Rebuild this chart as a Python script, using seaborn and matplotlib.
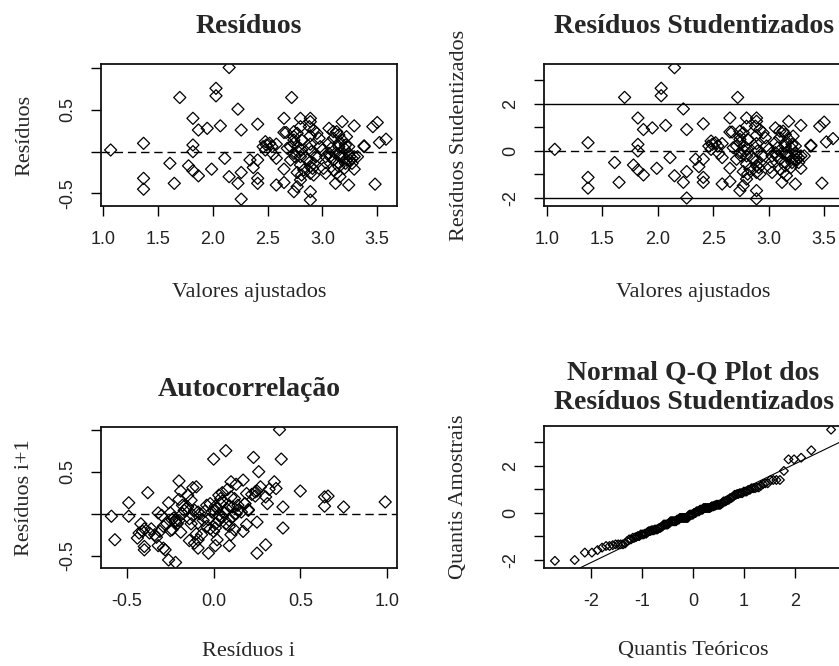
import matplotlib
matplotlib.use("Agg")
import matplotlib.pyplot as plt
import seaborn as sns
import numpy as np
from statistics import NormalDist

fitted = [1.07, 1.37, 1.37, 1.37, 1.61, 1.65, 1.70, 1.82, 1.82, 1.82,
          1.78, 1.82, 1.87, 1.87, 1.95, 1.99, 2.03, 2.03, 2.07, 2.11,
          2.15, 2.15, 2.23, 2.26, 2.23, 2.26, 2.26, 2.34, 2.37, 2.41,
          2.41, 2.41, 2.41, 2.48, 2.48, 2.52, 2.55, 2.58, 2.58, 2.58,
          2.65, 2.65, 2.67, 2.65, 2.65, 2.72, 2.74, 2.74, 2.74, 2.74,
          2.77, 2.77, 2.80, 2.80, 2.78, 2.80, 2.80, 2.80, 2.89, 2.89,
          2.89, 2.89, 2.89, 2.89, 2.89, 2.89, 2.89, 2.92, 2.92, 2.91,
          3.00, 3.01, 3.03, 3.06, 3.06, 3.07, 3.03, 3.10, 3.12, 3.15,
          3.15, 3.15, 3.15, 3.15, 3.16, 3.18, 3.18, 3.18, 3.20, 3.21,
          3.24, 3.24, 3.25, 3.29, 3.29, 3.29, 3.38, 3.38, 3.46, 3.50,
          3.48, 3.52, 3.58, 2.75, 2.81, 2.77, 2.97, 3.12, 3.10, 3.22,
          3.27, 2.98, 2.86, 2.94, 2.71, 2.71, 2.54, 2.49, 2.83, 3.13,
          3.08, 3.22, 3.32, 2.95, 2.74, 2.88, 3.16, 3.25, 3.20, 3.10,
          2.81, 3.16, 2.68, 2.92, 3.21, 2.81, 3.06, 2.46, 3.27, 2.90,
          2.74, 3.13, 3.03, 3.10, 2.88, 3.24, 2.78]
residuals = [0.02, 0.10, -0.32, -0.45, -0.14, -0.38, 0.65, 0.40, 0.08, 0.00,
             -0.17, -0.23, -0.29, 0.26, 0.28, -0.21, 0.76, 0.67, 0.31, -0.08,
             1.01, -0.30, 0.51, 0.26, -0.38, -0.25, -0.57, -0.10, -0.19, 0.33,
             -0.10, -0.32, -0.38, 0.12, 0.02, 0.10, -0.03, 0.09, -0.08, -0.40,
             0.40, 0.23, 0.23, -0.21, -0.37, 0.65, 0.18, 0.14, -0.02, -0.48,
             -0.25, -0.42, 0.40, 0.30, 0.06, -0.06, -0.16, -0.34, 0.40, 0.36,
             0.19, 0.09, -0.12, -0.18, -0.26, -0.48, -0.58, 0.26, -0.14, -0.20,
             0.02, -0.20, -0.26, 0.28, 0.10, -0.06, -0.13, 0.24, -0.38, 0.20,
             0.10, 0.06, -0.14, -0.18, -0.30, 0.36, 0.14, -0.06, -0.20, 0.08,
             -0.02, -0.40, -0.06, 0.31, -0.06, -0.21, 0.06, 0.07, 0.30, 0.35,
             -0.39, 0.11, 0.15, -0.06, 0.02, 0.22, 0.16, -0.02, -0.10, -0.10,
             -0.14, 0.06, -0.10, -0.06, -0.10, 0.06, 0.06, 0.08, -0.22, -0.26,
             0.04, 0.18, -0.06, 0.22, 0.10, 0.04, -0.02, -0.10, 0.04, 0.16,
             -0.28, -0.06, 0.04, -0.28, -0.14, 0.14, -0.02, 0.06, -0.08, 0.00,
             0.24, 0.24, -0.06, -0.22, 0.30, 0.06, 0.00]

# residual scale used for the studentized residuals
SIGMA = 0.285

res_i = [-0.59, -0.57, -0.49, -0.49, -0.42, -0.44, -0.43, -0.41, -0.40, -0.40,
         -0.38, -0.37, -0.34, -0.32, -0.32, -0.31, -0.29, -0.29, -0.28, -0.26,
         -0.26, -0.25, -0.24, -0.24, -0.22, -0.22, -0.20, -0.20, -0.19, -0.19,
         -0.21, -0.17, -0.15, -0.15, -0.14, -0.13, -0.14, -0.12, -0.11, -0.10,
         -0.10, -0.09, -0.09, -0.09, -0.09, -0.11, -0.04, -0.03, -0.03, -0.02,
         0.00, 0.00, 0.00, 0.01, 0.01, 0.02, 0.01, 0.03, 0.03, 0.04,
         0.05, 0.05, 0.07, 0.08, 0.09, 0.09, 0.09, 0.10, 0.09, 0.10,
         0.11, 0.12, 0.13, 0.14, 0.17, 0.17, 0.18, 0.19, 0.19, 0.20,
         0.23, 0.24, 0.24, 0.25, 0.25, 0.26, 0.27, 0.30, 0.30, 0.31,
         0.32, 0.35, 0.36, 0.38, 0.39, 0.40, 0.40, 0.50, 0.64, 0.66,
         0.64, 0.75, 0.99, -0.23, -0.22, -0.18, -0.16, -0.12, -0.08, -0.06,
         -0.05, 0.02, 0.03, 0.06, 0.07, 0.11, 0.14, 0.16, -0.27, -0.30,
         -0.36, -0.33, -0.20, 0.05, 0.12, -0.02, 0.08, 0.22, 0.25, -0.13,
         -0.07, 0.01, 0.04, -0.25, -0.40, 0.18, -0.04, 0.10, -0.18, 0.13,
         0.20, -0.01]
res_next = [-0.03, -0.31, 0.13, -0.03, -0.12, -0.29, -0.23, -0.21, -0.39, -0.43,
            0.25, -0.23, -0.25, -0.38, 0.01, -0.21, -0.15, -0.41, -0.43, -0.55,
            0.13, 0.01, -0.19, -0.07, -0.08, -0.58, 0.39, 0.17, 0.27, -0.22,
            -0.12, 0.04, 0.08, 0.22, -0.06, -0.12, -0.32, 0.31, 0.04, -0.24,
            0.32, 0.02, -0.11, -0.31, -0.41, -0.35, 0.10, -0.07, -0.47, -0.18,
            0.65, 0.04, -0.21, -0.17, 0.09, -0.31, -0.38, -0.02, 0.22, 0.12,
            0.25, -0.04, 0.75, 0.29, 0.09, -0.08, -0.15, -0.25, -0.38, 0.38,
            0.08, -0.19, 0.35, 0.10, 0.40, -0.21, 0.12, -0.13, 0.24, 0.04,
            0.67, 0.26, 0.21, -0.47, -0.10, 0.50, 0.32, -0.37, 0.20, 0.12,
            0.29, 0.38, 0.30, 1.00, 0.65, 0.08, -0.17, 0.27, 0.20, 0.21,
            0.09, 0.08, 0.14, -0.05, -0.10, 0.00, 0.06, -0.02, 0.00, -0.08,
            0.03, 0.06, -0.08, 0.02, -0.12, -0.03, 0.04, 0.02, -0.12, -0.02,
            -0.18, -0.28, -0.08, 0.15, 0.18, 0.12, 0.05, 0.23, 0.27, 0.16,
            -0.25, -0.12, 0.18, -0.20, -0.18, 0.12, -0.15, 0.20, 0.10, 0.00,
            0.05, 0.02]

# reference line of the Q-Q panel
QQ_INTERCEPT = -0.01
QQ_SLOPE = 1.05

stud = np.array(residuals) / SIGMA

# normal Q-Q: sorted studentized residuals against normal quantiles
n = len(stud)
sample_q = np.sort(stud)
theo_q = np.array([NormalDist().inv_cdf((k - 0.5) / n) for k in range(1, n + 1)])

sns.set_theme(style="white")
plt.rcParams["font.family"] = ["Liberation Serif", "DejaVu Serif"]

W, H = 839, 666
fig = plt.figure(figsize=(W / 100, H / 100), dpi=100)


def box(x0, y0, x1, y1):
    return [x0 / W, 1 - y1 / H, (x1 - x0) / W, (y1 - y0) / H]


TICK_FONT = dict(family="Liberation Sans", size=13, color="#222222")
DASH = (0, (6, 3.5))


def style(ax, xt, xl, yt, yl, xlim, ylim, title, xlabel, ylabel, tpad):
    ax.set_xlim(*xlim)
    ax.set_ylim(*ylim)
    ax.set_xticks(xt)
    ax.set_xticklabels(xl, fontdict=TICK_FONT)
    ax.set_yticks(yt)
    ax.set_yticklabels(yl, fontdict=TICK_FONT, rotation=90, va="center")
    ax.tick_params(axis="both", direction="out", length=7, width=1,
                   color="black", pad=11, left=True, bottom=True)
    for s in ax.spines.values():
        s.set_color("#111111")
        s.set_linewidth(1.3)
    ax.set_title(title, fontsize=20, fontweight="bold", pad=tpad,
                 family="Liberation Serif")
    ax.set_xlabel(xlabel, fontsize=16, va="center")
    ax.set_ylabel(ylabel, fontsize=16, va="center")


def pt(ax, **kw):
    return dict(marker="D", facecolor="none", edgecolor="black",
                linewidth=0.9, ax=ax, legend=False, **kw)


# Resíduos
ax1 = fig.add_axes(box(101, 64, 397, 206))
sns.scatterplot(x=fitted, y=residuals, s=38, **pt(ax1))
ax1.axhline(0, color="black", lw=1, ls=DASH)
style(ax1, [1.0, 1.5, 2.0, 2.5, 3.0, 3.5], ["1.0", "1.5", "2.0", "2.5", "3.0", "3.5"],
      [-0.5, 0, 0.5, 1.0], ["-0.5", "", "0.5", ""], (0.982, 3.68), (-0.652, 1.052),
      "Resíduos", "Valores ajustados", "Resíduos", 22)
ax1.xaxis.set_label_coords(0.5, (206 - 293) / 142)
ax1.yaxis.set_label_coords((25 - 101) / 296, 0.5)

# Resíduos Studentizados
ax2 = fig.add_axes(box(544, 64, 843, 206))
sns.scatterplot(x=fitted, y=stud, s=38, **pt(ax2))
ax2.axhline(0, color="black", lw=1, ls=DASH)
ax2.axhline(2, color="black", lw=1)
ax2.axhline(-2, color="black", lw=1)
style(ax2, [1.0, 1.5, 2.0, 2.5, 3.0, 3.5], ["1.0", "1.5", "2.0", "2.5", "3.0", "3.5"],
      [-2, -1, 0, 1, 2, 3], ["-2", "", "0", "", "2", ""], (0.973, 3.67), (-2.34, 3.70),
      "Resíduos Studentizados", "Valores ajustados", "Resíduos Studentizados", 22)
ax2.xaxis.set_label_coords(0.5, (206 - 293) / 142)
ax2.yaxis.set_label_coords((459 - 544) / 299, 0.5)

# Autocorrelação
ax3 = fig.add_axes(box(101, 427, 397, 568))
sns.scatterplot(x=res_i, y=res_next, s=38, **pt(ax3))
ax3.axhline(0, color="black", lw=1, ls=DASH)
style(ax3, [-0.5, 0.0, 0.5, 1.0], ["-0.5", "0.0", "0.5", "1.0"],
      [-0.5, 0, 0.5, 1.0], ["-0.5", "", "0.5", ""], (-0.65, 1.058), (-0.646, 1.032),
      "Autocorrelação", "Resíduos i", "Resíduos i+1", 22)
ax3.xaxis.set_label_coords(0.5, (568 - 652) / 141)
ax3.yaxis.set_label_coords((25 - 101) / 296, 0.5)

# Normal Q-Q
ax4 = fig.add_axes(box(544, 426, 843, 568))
sns.scatterplot(x=theo_q, y=sample_q, s=20, **pt(ax4))
ax4.axline((0, QQ_INTERCEPT), slope=QQ_SLOPE, color="black", lw=0.8)
style(ax4, [-2, -1, 0, 1, 2], ["-2", "-1", "0", "1", "2"],
      [-2, -1, 0, 1, 2, 3], ["-2", "", "0", "", "2", ""], (-2.92, 2.94), (-2.34, 3.70),
      "Normal Q-Q Plot dos\nResíduos Studentizados", "Quantis Teóricos",
      "Quantis Amostrais", 12)
ax4.title.set_linespacing(1.25)
ax4.xaxis.set_label_coords(0.5, (568 - 650) / 142)
ax4.yaxis.set_label_coords((459 - 544) / 299, 0.5)

fig.savefig("out.png", dpi=100)
